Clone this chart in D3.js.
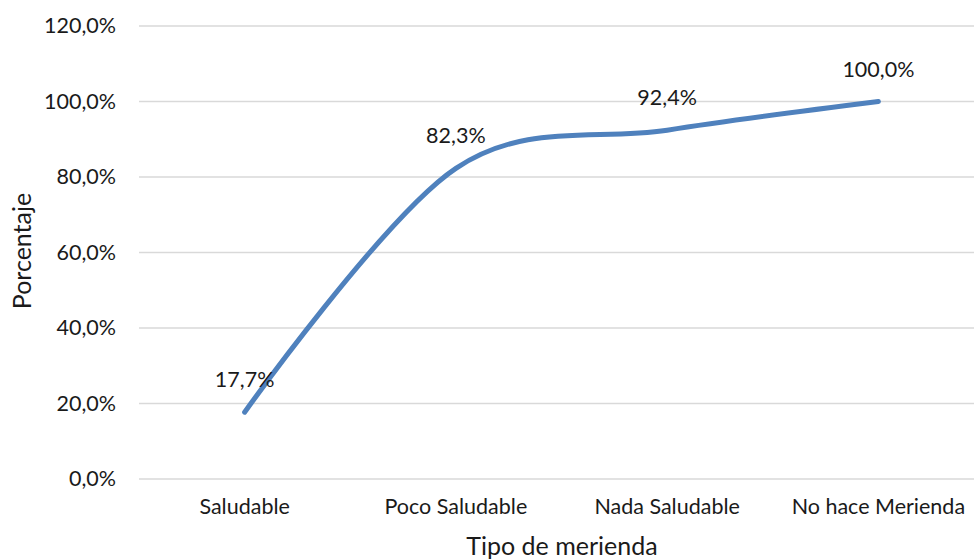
<!DOCTYPE html>
<html>
<head>
<meta charset="utf-8">
<script src="https://cdn.jsdelivr.net/npm/d3@7"></script>
<style>
  html, body { margin: 0; padding: 0; background: #fff; }
  svg { display: block; font-family: Lato, "Open Sans", sans-serif; }
</style>
</head>
<body>
<svg id="chart" width="974" height="560"></svg>
<script>
// Share of students by type of afternoon snack (cumulative percentage)
const categories = ["Saludable", "Poco Saludable", "Nada Saludable", "No hace Merienda"];
const values = [17.7, 82.3, 92.4, 100.0];
const yTicks = [0, 20, 40, 60, 80, 100, 120];

const fmt = v => v.toFixed(1).replace(".", ",") + "%";
const FONT = "Lato, 'Open Sans', sans-serif";
const TEXT = "#1a1a1a";

const svg = d3.select("#chart");
const margin = { left: 139, right: -10, top: 26, bottom: 81 };
const W = 974, H = 560;

const x = d3.scaleBand()
  .domain(categories)
  .range([margin.left, W - margin.right])
  .paddingInner(0).paddingOuter(0);

const y = d3.scaleLinear()
  .domain([0, 120])
  .range([H - margin.bottom, margin.top]);

// Horizontal gridlines
svg.append("g")
  .selectAll("line")
  .data(yTicks)
  .join("line")
  .attr("x1", margin.left)
  .attr("x2", W)
  .attr("y1", d => y(d))
  .attr("y2", d => y(d))
  .attr("stroke", "#d9d9d9")
  .attr("stroke-width", 1.3);

// Y axis labels
const yAxis = d3.axisLeft(y).tickValues(yTicks).tickFormat(fmt).tickSize(0).tickPadding(0);
const gy = svg.append("g")
  .attr("transform", `translate(${margin.left - 23},0)`)
  .call(yAxis);
gy.select(".domain").remove();
gy.selectAll("text")
  .attr("font-size", 21.5)
  .attr("font-family", FONT)
  .attr("fill", TEXT);

// X axis labels
const xAxis = d3.axisBottom(x).tickSize(0).tickPadding(0);
const gx = svg.append("g")
  .attr("transform", `translate(0,${y(0) + 20})`)
  .call(xAxis);
gx.select(".domain").remove();
gx.selectAll("text")
  .attr("font-size", 21.5)
  .attr("font-family", FONT)
  .attr("fill", TEXT);

// Smoothed series line
const line = d3.line()
  .x((d, i) => x(categories[i]) + x.bandwidth() / 2)
  .y(d => y(d))
  .curve(d3.curveCatmullRom.alpha(0));

svg.append("path")
  .datum(values)
  .attr("d", line)
  .attr("fill", "none")
  .attr("stroke", "#4f81bd")
  .attr("stroke-width", 5)
  .attr("stroke-linecap", "round")
  .attr("stroke-linejoin", "round");

// Data labels above each point
svg.append("g")
  .selectAll("text")
  .data(values)
  .join("text")
  .attr("x", (d, i) => x(categories[i]) + x.bandwidth() / 2)
  .attr("y", d => y(d) - 25)
  .attr("text-anchor", "middle")
  .attr("font-size", 21.5)
  .attr("font-family", FONT)
  .attr("fill", TEXT)
  .text(fmt);

// Axis titles
svg.append("text")
  .attr("x", 562)
  .attr("y", 555)
  .attr("text-anchor", "middle")
  .attr("font-size", 25)
  .attr("font-family", FONT)
  .attr("fill", TEXT)
  .text("Tipo de merienda");

svg.append("text")
  .attr("transform", "translate(31,251) rotate(-90)")
  .attr("text-anchor", "middle")
  .attr("font-size", 25)
  .attr("font-family", FONT)
  .attr("fill", TEXT)
  .text("Porcentaje");
</script>
</body>
</html>
